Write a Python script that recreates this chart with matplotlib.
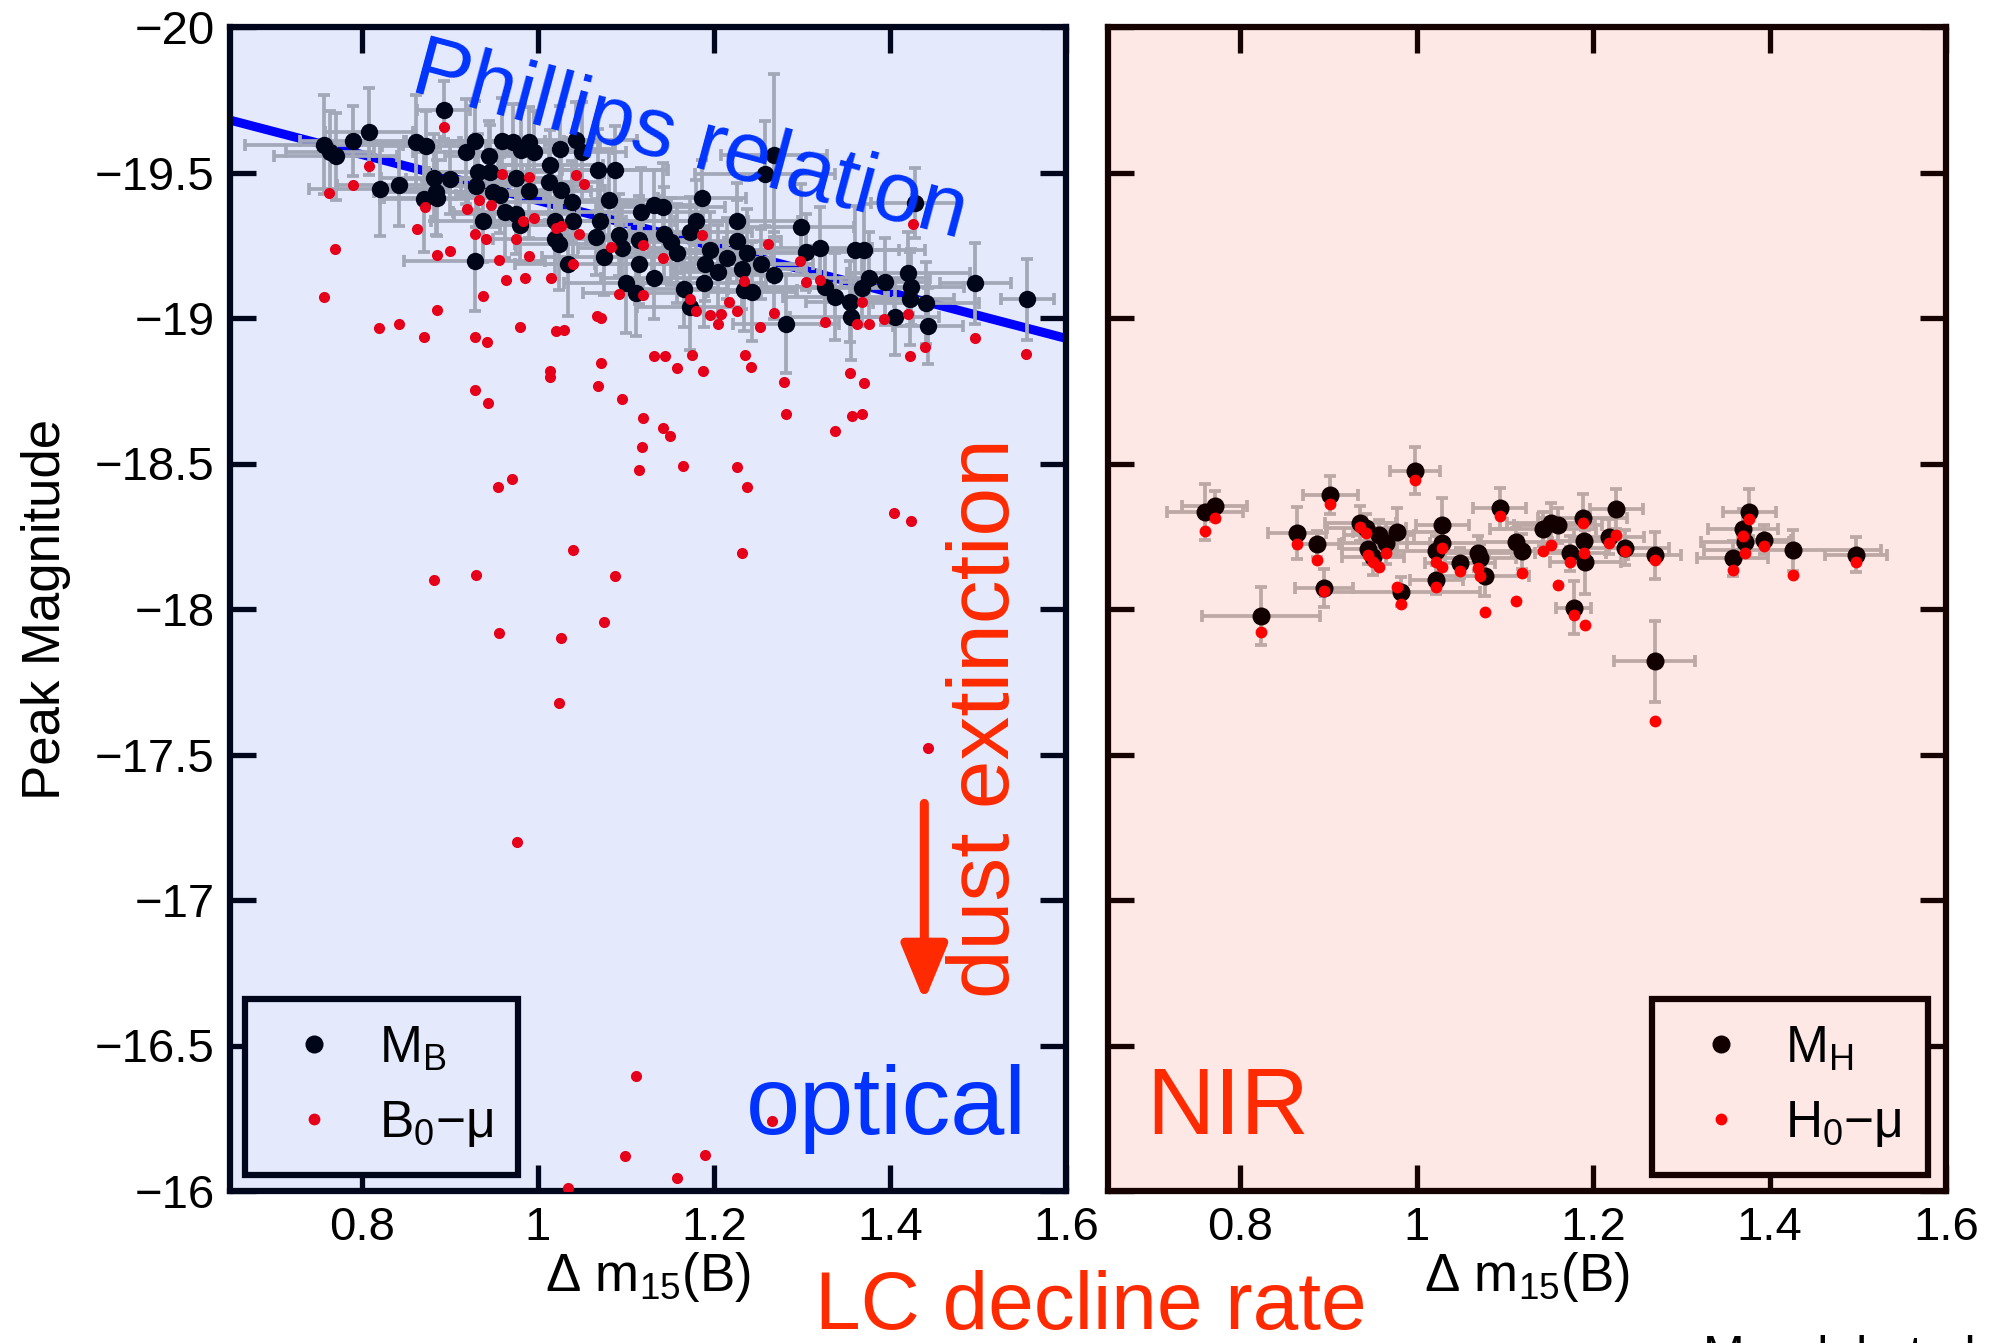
import numpy as np
import matplotlib
matplotlib.use("Agg")
import matplotlib.pyplot as plt
from matplotlib.lines import Line2D
from matplotlib.ticker import FixedLocator, FuncFormatter

plt.rcParams['font.family'] = ['Liberation Sans', 'DejaVu Sans']
plt.rcParams['mathtext.fontset'] = 'custom'
plt.rcParams['mathtext.rm'] = 'Liberation Sans'
plt.rcParams['mathtext.it'] = 'Liberation Sans:italic'
plt.rcParams['mathtext.bf'] = 'Liberation Sans:bold'
plt.rcParams['mathtext.default'] = 'regular'

# ---------------- optical: M_B with errors ----------------
opt_dm15 = [0.893, 0.808, 0.790, 0.757, 0.764, 0.770, 0.861, 0.873, 0.928, 0.918,
            0.944, 0.959, 0.972, 0.981, 0.990, 0.996, 1.025, 1.043, 1.050, 1.014,
            1.068, 1.087, 0.932, 0.946, 0.882, 0.900, 0.842, 0.820, 0.930, 0.949,
            0.884, 0.871, 0.885, 0.975, 0.990, 1.013, 1.026, 1.039, 1.081, 1.117,
            0.957, 0.963, 0.975, 1.268, 1.258, 1.428, 1.186, 1.142, 1.132, 0.938,
            0.928, 0.979, 1.019, 1.040, 1.024, 1.019, 1.034, 1.066, 1.070, 1.092,
            1.096, 1.075, 1.115, 1.115, 1.100, 1.111, 1.179, 1.226, 1.299, 1.143,
            1.173, 1.151, 1.226, 1.196, 1.158, 1.215, 1.237, 1.190, 1.205, 1.232,
            1.253, 1.268, 1.304, 1.320, 1.360, 1.370, 1.132, 1.166, 1.189, 1.234,
            1.243, 1.326, 1.338, 1.354, 1.376, 1.368, 1.394, 1.421, 1.424, 1.423,
            1.441, 1.356, 1.406, 1.443, 1.282, 1.497, 1.556, 1.173]
opt_MB = [-19.714, -19.640, -19.607, -19.596, -19.571, -19.556, -19.605, -19.592, -19.607, -19.571,
          -19.557, -19.607, -19.605, -19.577, -19.605, -19.571, -19.580, -19.611, -19.571, -19.525,
          -19.508, -19.510, -19.502, -19.502, -19.482, -19.477, -19.456, -19.443, -19.454, -19.434,
          -19.434, -19.408, -19.413, -19.482, -19.436, -19.468, -19.439, -19.399, -19.405, -19.365,
          -19.422, -19.365, -19.359, -19.559, -19.496, -19.396, -19.413, -19.382, -19.388, -19.334,
          -19.195, -19.319, -19.334, -19.334, -19.256, -19.273, -19.187, -19.279, -19.334, -19.285,
          -19.239, -19.210, -19.268, -19.187, -19.119, -19.087, -19.334, -19.334, -19.311, -19.290,
          -19.296, -19.262, -19.265, -19.233, -19.222, -19.205, -19.224, -19.187, -19.159, -19.170,
          -19.187, -19.147, -19.227, -19.242, -19.235, -19.233, -19.136, -19.098, -19.119, -19.096,
          -19.090, -19.107, -19.073, -19.056, -19.136, -19.102, -19.125, -19.155, -19.107, -19.067,
          -19.052, -19.004, -19.004, -18.972, -18.981, -19.119, -19.064, -19.039]
opt_dm15_err = [0.03, 0.05, 0.06, 0.09, 0.05, 0.07, 0.07, 0.05, 0.08, 0.06,
                0.05, 0.07, 0.06, 0.04, 0.08, 0.05, 0.06, 0.07, 0.05, 0.06,
                0.08, 0.06, 0.05, 0.07, 0.06, 0.05, 0.07, 0.08, 0.05, 0.06,
                0.07, 0.05, 0.06, 0.05, 0.07, 0.06, 0.05, 0.08, 0.06, 0.07,
                0.05, 0.06, 0.07, 0.06, 0.08, 0.05, 0.05, 0.07, 0.06, 0.06,
                0.08, 0.05, 0.07, 0.06, 0.05, 0.07, 0.06, 0.05, 0.08, 0.06,
                0.05, 0.07, 0.06, 0.05, 0.07, 0.06, 0.06, 0.07, 0.06, 0.05,
                0.07, 0.06, 0.05, 0.07, 0.06, 0.05, 0.07, 0.06, 0.05, 0.07,
                0.06, 0.05, 0.07, 0.06, 0.05, 0.07, 0.06, 0.05, 0.07, 0.06,
                0.05, 0.07, 0.06, 0.05, 0.07, 0.06, 0.05, 0.07, 0.06, 0.05,
                0.06, 0.07, 0.05, 0.04, 0.06, 0.04, 0.03, 0.06]
opt_MB_err = [0.10, 0.15, 0.12, 0.17, 0.14, 0.15, 0.16, 0.12, 0.14, 0.18,
              0.12, 0.15, 0.13, 0.16, 0.12, 0.14, 0.15, 0.13, 0.17, 0.12,
              0.14, 0.15, 0.13, 0.16, 0.15, 0.12, 0.14, 0.16, 0.14, 0.12,
              0.15, 0.18, 0.13, 0.14, 0.16, 0.13, 0.15, 0.14, 0.17, 0.15,
              0.13, 0.16, 0.14, 0.28, 0.18, 0.12, 0.13, 0.15, 0.12, 0.14,
              0.17, 0.13, 0.15, 0.12, 0.16, 0.14, 0.18, 0.13, 0.15, 0.14,
              0.16, 0.13, 0.15, 0.14, 0.17, 0.15, 0.14, 0.13, 0.15, 0.16,
              0.12, 0.15, 0.14, 0.13, 0.17, 0.14, 0.15, 0.13, 0.16, 0.14,
              0.12, 0.15, 0.13, 0.14, 0.15, 0.16, 0.14, 0.13, 0.15, 0.14,
              0.17, 0.13, 0.15, 0.14, 0.16, 0.13, 0.15, 0.14, 0.13, 0.16,
              0.14, 0.15, 0.13, 0.13, 0.17, 0.14, 0.14, 0.15]

# ---------------- optical: B0 - mu (red) ----------------
opt_red_dm15 = [0.893, 0.808, 0.790, 0.762, 0.872, 0.919, 0.933, 0.947, 0.959, 0.990,
                1.043, 1.052, 0.862, 0.769, 0.757, 0.885, 0.900, 0.928, 0.941, 0.975,
                0.983, 0.996, 0.956, 0.990, 0.964, 0.985, 1.015, 0.938, 0.885, 0.819,
                0.842, 0.871, 0.928, 0.980, 1.020, 1.030, 1.067, 1.072, 1.040, 1.047,
                1.021, 1.026, 1.083, 1.119, 1.092, 1.119, 0.942, 1.426, 1.186, 1.261,
                1.142, 1.298, 1.234, 1.304, 1.320, 1.368, 1.173, 1.179, 1.217, 1.226,
                1.196, 1.208, 1.205, 1.268, 1.252, 1.326, 1.363, 1.376, 1.393, 1.421,
                1.497, 1.440, 1.014, 1.014, 1.072, 1.068, 0.928, 0.943, 1.095, 1.119,
                1.142, 1.150, 1.118, 1.115, 1.165, 1.226, 1.237, 1.132, 1.144, 1.175,
                1.158, 1.188, 1.235, 1.242, 1.280, 1.354, 1.371, 1.282, 1.357, 1.368,
                1.337, 0.971, 0.954, 1.405, 1.424, 1.040, 1.232, 0.882, 0.930, 1.088,
                1.075, 0.956, 1.026, 1.024, 1.443, 1.555, 1.423, 0.976, 1.111, 1.099,
                1.190, 1.158, 1.034, 1.266]
opt_red_B0mu = [-19.657, -19.523, -19.456, -19.428, -19.382, -19.374, -19.405, -19.388, -19.495, -19.486,
                -19.491, -19.461, -19.305, -19.237, -19.073, -19.216, -19.230, -19.287, -19.272, -19.271,
                -19.334, -19.342, -19.200, -19.213, -19.130, -19.139, -19.137, -19.075, -19.026, -18.964,
                -18.981, -18.933, -18.935, -18.968, -18.955, -18.958, -19.006, -18.999, -19.187, -19.288,
                -19.308, -19.316, -19.245, -19.250, -19.082, -19.079, -18.918, -19.322, -19.284, -19.256,
                -19.205, -19.196, -19.128, -19.122, -19.132, -19.055, -19.065, -19.024, -19.056, -19.024,
                -19.009, -19.013, -18.981, -19.018, -18.970, -18.985, -18.981, -18.981, -18.995, -19.013,
                -18.932, -18.899, -18.818, -18.797, -18.845, -18.767, -18.754, -18.707, -18.720, -18.655,
                -18.623, -18.595, -18.558, -18.478, -18.492, -18.487, -18.419, -18.869, -18.869, -18.873,
                -18.829, -18.819, -18.872, -18.832, -18.781, -18.810, -18.778, -18.671, -18.662, -18.670,
                -18.611, -18.447, -18.419, -18.331, -18.304, -18.202, -18.194, -18.098, -18.116, -18.113,
                -17.955, -17.917, -17.901, -17.676, -17.522, -18.876, -18.870, -17.199, -16.394, -16.120,
                -16.125, -16.046, -16.011, -16.240]

# Phillips relation (straight line end points)
phillips_dm15 = [0.65, 1.60]
phillips_M = [-19.68, -18.93]

# ---------------- NIR: M_H and H0 - mu ----------------
nir_dm15 = [0.760, 0.771, 0.823, 0.864, 0.887, 0.895, 0.902, 0.936, 0.943, 0.950,
            0.945, 0.957, 0.965, 0.978, 0.982, 0.998, 1.022, 1.029, 1.022, 1.029,
            1.049, 1.070, 1.072, 1.077, 1.094, 1.113, 1.119, 1.143, 1.152, 1.160,
            1.174, 1.178, 1.188, 1.190, 1.191, 1.218, 1.226, 1.236, 1.270, 1.270,
            1.358, 1.370, 1.372, 1.377, 1.394, 1.426, 1.498]
nir_MH = [-18.332, -18.354, -17.977, -18.261, -18.223, -18.072, -18.392, -18.295, -18.278, -18.177,
          -18.205, -18.255, -18.226, -18.266, -18.060, -18.475, -18.100, -18.290, -18.200, -18.226,
          -18.158, -18.192, -18.175, -18.115, -18.346, -18.230, -18.198, -18.275, -18.295, -18.287,
          -18.192, -18.005, -18.314, -18.232, -18.163, -18.249, -18.344, -18.211, -18.184, -17.820,
          -18.175, -18.275, -18.230, -18.332, -18.238, -18.202, -18.186]
nir_H0mu = [-18.269, -18.311, -17.920, -18.223, -18.168, -18.063, -18.360, -18.283, -18.260, -18.163,
            -18.185, -18.143, -18.192, -18.077, -18.017, -18.445, -18.077, -18.209, -18.163, -18.146,
            -18.131, -18.140, -18.112, -17.989, -18.318, -18.028, -18.123, -18.200, -18.221, -18.083,
            -18.160, -17.978, -18.295, -18.192, -17.946, -18.226, -18.253, -18.200, -18.167, -17.616,
            -18.135, -18.251, -18.194, -18.309, -18.217, -18.118, -18.161]
nir_dm15_err = [0.043, 0.037, 0.067, 0.033, 0.025, 0.033, 0.031, 0.040, 0.045, 0.035,
                0.030, 0.040, 0.050, 0.050, 0.090, 0.028, 0.030, 0.030, 0.050, 0.040,
                0.040, 0.050, 0.040, 0.050, 0.030, 0.040, 0.050, 0.060, 0.050, 0.050,
                0.040, 0.020, 0.050, 0.040, 0.040, 0.040, 0.030, 0.050, 0.030, 0.046,
                0.040, 0.040, 0.050, 0.030, 0.030, 0.100, 0.035]
nir_MH_err = [0.096, 0.050, 0.099, 0.089, 0.045, 0.066, 0.066, 0.060, 0.050, 0.060,
              0.050, 0.050, 0.070, 0.080, 0.050, 0.080, 0.050, 0.090, 0.050, 0.050,
              0.050, 0.060, 0.050, 0.070, 0.070, 0.050, 0.060, 0.060, 0.070, 0.060,
              0.060, 0.090, 0.080, 0.070, 0.110, 0.060, 0.070, 0.060, 0.080, 0.140,
              0.060, 0.070, 0.050, 0.080, 0.050, 0.070, 0.060]

xticks = [0.8, 1.0, 1.2, 1.4, 1.6]
yticks = [-20, -19.5, -19, -18.5, -18, -17.5, -17, -16.5, -16]

bg_opt = '#e4e9fc'
bg_nir = '#fde8e6'
edge_opt = '#00071c'
edge_nir = '#160200'
blue = '#0033ff'
orange = '#ff2a00'

W, H = 1990, 1343
fig = plt.figure(figsize=(W / 100, H / 100), dpi=100)
ax1 = fig.add_axes([230 / W, 152 / H, 836 / W, 1164 / H])
ax2 = fig.add_axes([1108 / W, 152 / H, 838 / W, 1164 / H])

fmt = FuncFormatter(lambda v, _: f'{v:g}'.replace('-', '\u2212'))

for ax, bg, ec in [(ax1, bg_opt, edge_opt), (ax2, bg_nir, edge_nir)]:
    ax.set_facecolor(bg)
    ax.set_xlim(0.65, 1.6)
    ax.set_ylim(-16, -20)
    ax.xaxis.set_major_locator(FixedLocator(xticks))
    ax.yaxis.set_major_locator(FixedLocator(yticks))
    ax.xaxis.set_major_formatter(fmt)
    ax.yaxis.set_major_formatter(fmt)
    for s in ax.spines.values():
        s.set_linewidth(4.5)
        s.set_color(ec)
    ax.tick_params(direction='in', length=19, width=3.8, color=ec,
                   top=True, right=True, labelsize=34, pad=11)
    ax.set_xlabel(r'$\Delta$ m$_{15}$(B)', fontsize=38, labelpad=0)

ax2.tick_params(labelleft=False)
ax1.set_ylabel('Peak Magnitude', fontsize=38)
ax1.yaxis.set_label_coords(-0.19, 0.5)

# ----- optical panel -----
ax1.plot(phillips_dm15, phillips_M, color='#0000ff', lw=6.5, zorder=1)
ax1.errorbar(opt_dm15, opt_MB, xerr=opt_dm15_err, yerr=opt_MB_err, fmt='none',
             ecolor='#a3a8b9', elinewidth=2.7, capsize=4.5, capthick=2.7, zorder=2)
ax1.plot(opt_dm15, opt_MB, 'o', color='#00061a', ms=12.5, mew=0, zorder=3)
ax1.plot(opt_red_dm15, opt_red_B0mu, 'o', color='#e60019', ms=8, mew=0, zorder=4)

ax1.text(1.172, -19.60, 'Phillips relation', color=blue, fontsize=61,
         rotation=-15, rotation_mode='anchor', ha='center', va='center', zorder=6)
ax1.text(1.510, -17.624, 'dust extinction', color=orange, fontsize=63,
         rotation=90, rotation_mode='anchor', ha='center', va='center', zorder=6)
ax1.annotate('', xy=(1.439, -16.652), xytext=(1.439, -17.332),
             arrowprops=dict(arrowstyle='-|>,head_length=0.85,head_width=0.35',
                             color=orange, lw=6.5, mutation_scale=40,
                             shrinkA=0, shrinkB=0), zorder=6)
ax1.text(1.555, -16.196, 'optical', color=blue, fontsize=70,
         ha='right', va='baseline', zorder=6)

h1 = [Line2D([], [], ls='none', marker='o', color='#00061a', ms=13, mew=0),
      Line2D([], [], ls='none', marker='o', color='#e60019', ms=8.5, mew=0)]
leg1 = ax1.legend(h1, ['$M_B$', '$B_0$\u2212\u03bc'], loc='lower left',
                  bbox_to_anchor=(0.018, 0.014), borderaxespad=0, fontsize=37,
                  fancybox=False, framealpha=1, facecolor=bg_opt, edgecolor=edge_opt,
                  handlelength=1.7, handletextpad=0.4, borderpad=0.5, labelspacing=0.5)
leg1.get_frame().set_linewidth(4.5)

# ----- NIR panel -----
ax2.errorbar(nir_dm15, nir_MH, xerr=nir_dm15_err, yerr=nir_MH_err, fmt='none',
             ecolor='#bca8a5', elinewidth=2.7, capsize=4.5, capthick=2.7, zorder=2)
ax2.plot(nir_dm15, nir_MH, 'o', color='#120000', ms=13, mew=0, zorder=3)
ax2.plot(nir_dm15, nir_H0mu, 'o', color='#ff0000', ms=8.5, mew=0, zorder=4)
ax2.text(0.693, -16.196, 'NIR', color=orange, fontsize=68,
         ha='left', va='baseline', zorder=6)

h2 = [Line2D([], [], ls='none', marker='o', color='#120000', ms=13, mew=0),
      Line2D([], [], ls='none', marker='o', color='#ff0000', ms=8.5, mew=0)]
leg2 = ax2.legend(h2, ['$M_H$', '$H_0$\u2212\u03bc'], loc='lower right',
                  bbox_to_anchor=(0.9785, 0.014), borderaxespad=0, fontsize=37,
                  fancybox=False, framealpha=1, facecolor=bg_nir, edgecolor=edge_nir,
                  handlelength=1.7, handletextpad=0.4, borderpad=0.5, labelspacing=0.5)
leg2.get_frame().set_linewidth(4.5)

fig.text(1091 / W, (H - 1329) / H, 'LC decline rate', color=orange, fontsize=59,
         ha='center', va='baseline')
fig.text(1703 / W, (H - 1371) / H, 'Mandel et al. 2011', color='black', fontsize=36,
         ha='left', va='baseline')

fig.savefig('out.png', dpi=100)
